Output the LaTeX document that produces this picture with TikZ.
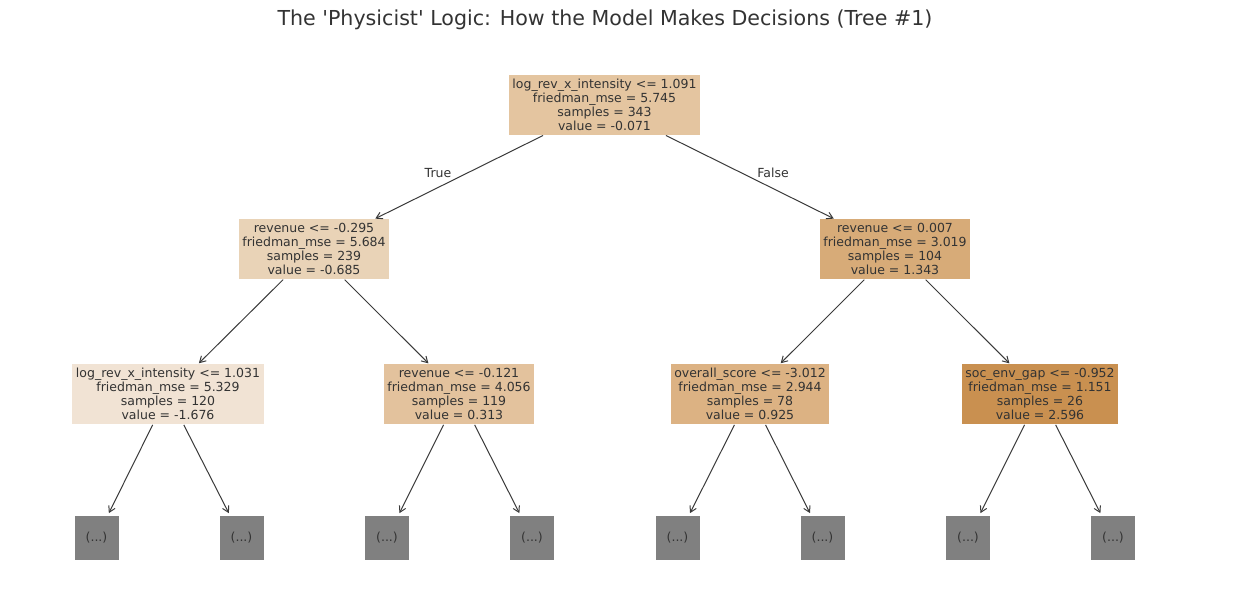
\documentclass[tikz,border=0pt]{standalone}
\usepackage{fontspec}
\setmainfont{DejaVu Sans}
\usepackage{xcolor}
\usepackage{tikz}
\usetikzlibrary{arrows.meta}
\definecolor{inkdark}{HTML}{333333}
\definecolor{edgegrey}{HTML}{3A3A3A}
\definecolor{leafgrey}{HTML}{808080}
\definecolor{rootfill}{HTML}{E4C5A0}
\definecolor{leftfill}{HTML}{E9D3B7}
\definecolor{rightfill}{HTML}{D7AB78}
\definecolor{llfill}{HTML}{F1E3D4}
\definecolor{lrfill}{HTML}{E3C29D}
\definecolor{rlfill}{HTML}{DCB283}
\definecolor{rrfill}{HTML}{C99050}
\newcommand{\treefont}{\fontsize{12.5}{14}\selectfont}
\tikzset{
  tnode/.style={fill=#1, inner xsep=3.5pt, inner ysep=4pt, align=center, font=\treefont, text=inkdark},
  tleaf/.style={fill=leafgrey, minimum width=44pt, minimum height=44pt, inner sep=0pt, font=\treefont, text=inkdark},
  tarrow/.style={-{Straight Barb[length=6pt,width=7pt]}, line width=1pt, draw=edgegrey, shorten <=1pt, shorten >=1pt},
  tlabel/.style={font=\treefont, text=inkdark},
}

\begin{document}
\begin{tikzpicture}[x=1pt, y=-1pt]
  \useasboundingbox (0,0) rectangle (1255,599);
  \node[font=\fontsize{20.6}{24}\selectfont, text=inkdark] (title) at (605,19.5) {The \textquotesingle Physicist\textquotesingle{} Logic: How the Model Makes Decisions (Tree \#1)};
  % root and first split
  \node[tnode=rootfill] (root) at (604.5,105) {log\_rev\_x\_intensity <= 1.091\\friedman\_mse = 5.745\\samples = 343\\value = -0.071};
  \node[tnode=leftfill] (rev1) at (314,249) {revenue <= -0.295\\friedman\_mse = 5.684\\samples = 239\\value = -0.685};
  \node[tnode=rightfill] (rev2) at (895,249) {revenue <= 0.007\\friedman\_mse = 3.019\\samples = 104\\value = 1.343};
  % second split
  \node[tnode=llfill] (lrx) at (168,394) {log\_rev\_x\_intensity <= 1.031\\friedman\_mse = 5.329\\samples = 120\\value = -1.676};
  \node[tnode=lrfill] (rev3) at (459,394) {revenue <= -0.121\\friedman\_mse = 4.056\\samples = 119\\value = 0.313};
  \node[tnode=rlfill] (score) at (750,394) {overall\_score <= -3.012\\friedman\_mse = 2.944\\samples = 78\\value = 0.925};
  \node[tnode=rrfill] (gap) at (1040,394) {soc\_env\_gap <= -0.952\\friedman\_mse = 1.151\\samples = 26\\value = 2.596};
  % truncated subtrees
  \node[tleaf] (t1) at (96.5,538) {(...)};
  \node[tleaf] (t2) at (241.5,538) {(...)};
  \node[tleaf] (t3) at (387,538) {(...)};
  \node[tleaf] (t4) at (532,538) {(...)};
  \node[tleaf] (t5) at (677.5,538) {(...)};
  \node[tleaf] (t6) at (822.5,538) {(...)};
  \node[tleaf] (t7) at (968,538) {(...)};
  \node[tleaf] (t8) at (1113,538) {(...)};
  \draw[tarrow] (root) -- (rev1);
  \draw[tarrow] (root) -- (rev2);
  \node[tlabel] (truelbl) at (438,173) {True};
  \node[tlabel] (falselbl) at (773,173) {False};
  \draw[tarrow] (rev1) -- (lrx);
  \draw[tarrow] (rev1) -- (rev3);
  \draw[tarrow] (rev2) -- (score);
  \draw[tarrow] (rev2) -- (gap);
  \draw[tarrow, shorten >=3pt] (lrx) -- (t1);
  \draw[tarrow, shorten >=3pt] (lrx) -- (t2);
  \draw[tarrow, shorten >=3pt] (rev3) -- (t3);
  \draw[tarrow, shorten >=3pt] (rev3) -- (t4);
  \draw[tarrow, shorten >=3pt] (score) -- (t5);
  \draw[tarrow, shorten >=3pt] (score) -- (t6);
  \draw[tarrow, shorten >=3pt] (gap) -- (t7);
  \draw[tarrow, shorten >=3pt] (gap) -- (t8);
\end{tikzpicture}
\end{document}
